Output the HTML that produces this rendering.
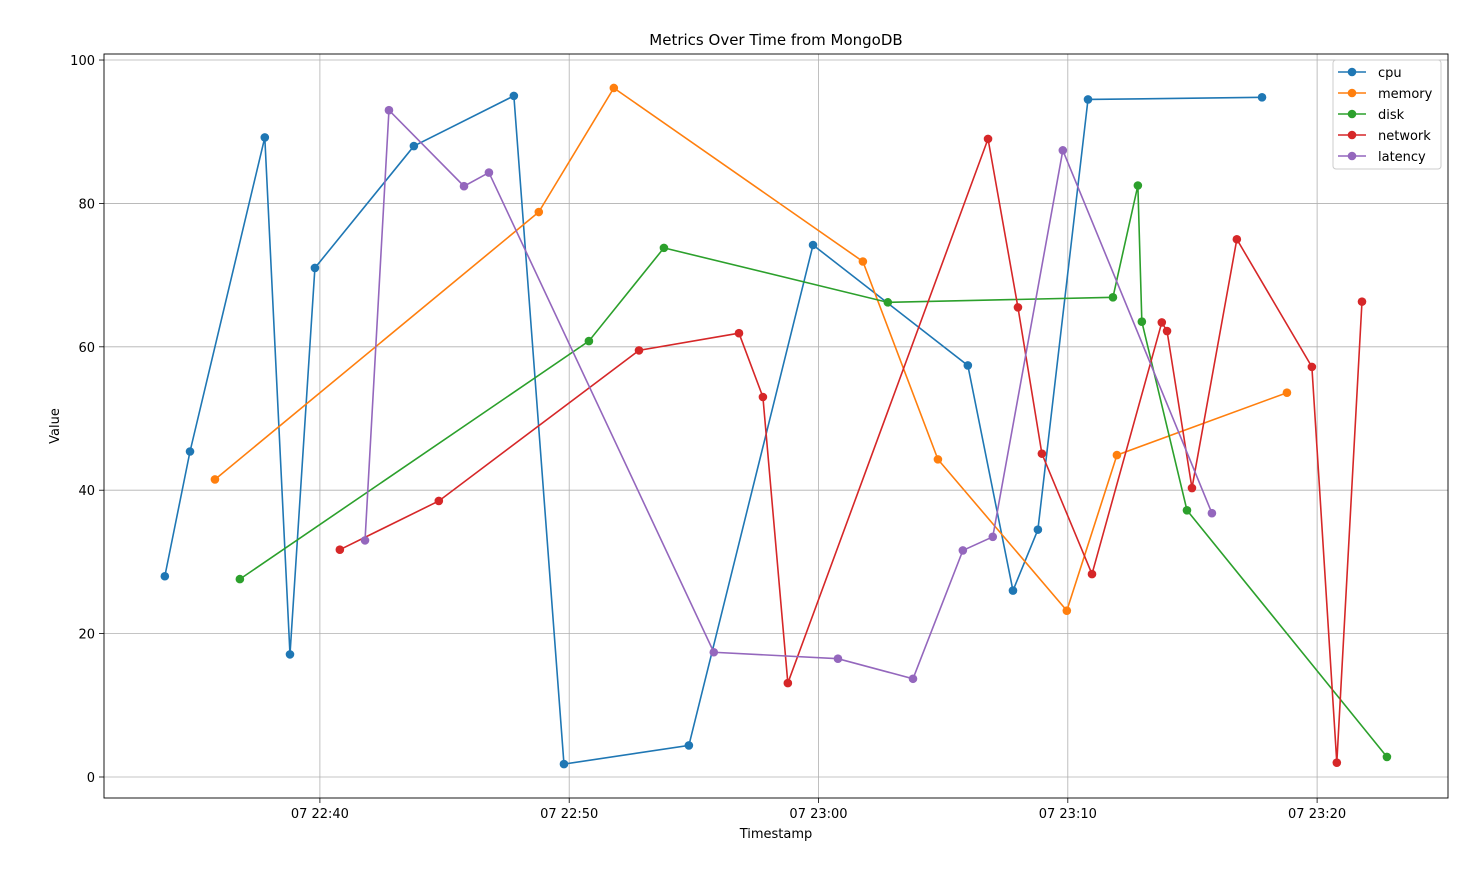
<!DOCTYPE html>
<html><head><meta charset="utf-8"><style>
body{margin:0;background:#fff;}
svg text{font-family:"DejaVu Sans","Liberation Sans",sans-serif;}
</style></head><body>
<svg id="chart" width="1470" height="884" xmlns="http://www.w3.org/2000/svg"></svg>
<script>
// minutes after 22:30
const cpuT=[3.78,4.79,7.79,8.80,9.80,13.77,17.78,19.79,24.80,29.78,35.99,37.80,38.80,40.81,47.79];
const cpuV=[28,45.4,89.2,17.1,71,88,95,1.8,4.4,74.2,57.4,26,34.5,94.5,94.8];
const memT=[5.79,18.78,21.79,31.78,34.79,39.96,41.97,48.79];
const memV=[41.5,78.8,96.1,71.9,44.3,23.2,44.9,53.6];
const diskT=[6.79,20.79,23.80,32.78,41.81,42.81,42.97,44.78,52.80];
const diskV=[27.6,60.8,73.8,66.2,66.9,82.5,63.5,37.2,2.8];
const netT=[10.80,14.77,22.80,26.81,27.77,28.77,36.80,38.00,38.96,40.97,43.77,43.98,44.98,46.78,49.79,50.79,51.80];
const netV=[31.7,38.5,59.5,61.9,53,13.1,89,65.5,45.1,28.3,63.4,62.2,40.3,75,57.2,2,66.3];
const latT=[11.81,12.77,15.78,16.78,25.80,30.78,33.79,35.79,36.99,39.80,45.78];
const latV=[33,93,82.4,84.3,17.4,16.5,13.7,31.6,33.5,87.4,36.8];
const xTicks=[10,20,30,40,50];
const xTickLabels=["07 22:40","07 22:50","07 23:00","07 23:10","07 23:20"];
const yTicks=[0,20,40,60,80,100];

const L=104,R=1448,T=54,B=798;
const xMin=1.34,xMax=55.25,yMin=-2.93,yMax=100.84;
const X=m=>L+(m-xMin)/(xMax-xMin)*(R-L);
const Y=v=>B-(v-yMin)/(yMax-yMin)*(B-T);
const svg=document.getElementById('chart');
const NS='http://www.w3.org/2000/svg';
function mk(tag,attrs,parent){const e=document.createElementNS(NS,tag);for(const k in attrs)e.setAttribute(k,attrs[k]);(parent||svg).appendChild(e);return e;}

// grid
xTicks.forEach((t,i)=>{
  const g=mk('line',{x1:X(t),x2:X(t),y1:T,y2:B,stroke:'#b0b0b0','stroke-width':0.8});
  
  
  const tk=mk('line',{x1:X(t),x2:X(t),y1:B,y2:B+5,stroke:'#000','stroke-width':0.8});
  
  
  const tx=mk('text',{x:X(t),y:B+20,'text-anchor':'middle','font-size':13});
  tx.textContent=xTickLabels[i];
  
  
});
yTicks.forEach(t=>{
  const g=mk('line',{x1:L,x2:R,y1:Y(t),y2:Y(t),stroke:'#b0b0b0','stroke-width':0.8});
  
  
  const tk=mk('line',{x1:L-5,x2:L,y1:Y(t),y2:Y(t),stroke:'#000','stroke-width':0.8});
  
  
  const tx=mk('text',{x:L-9,y:Y(t)+5,'text-anchor':'end','font-size':13});
  tx.textContent=t;
  
  
});

const series=[
  ['cpu','#1f77b4',cpuT,cpuV],
  ['memory','#ff7f0e',memT,memV],
  ['disk','#2ca02c',diskT,diskV],
  ['network','#d62728',netT,netV],
  ['latency','#9467bd',latT,latV]];
series.forEach(([name,col,ts,vs])=>{
  const g=mk('g',{});
  
  
  const p=mk('polyline',{points:ts.map((t,i)=>X(t)+','+Y(vs[i])).join(' '),fill:'none',stroke:col,'stroke-width':1.6},g);
  
  
  ts.forEach((t,i)=>{
    const c=mk('circle',{cx:X(t),cy:Y(vs[i]),r:4.3,fill:col},g);
    
    
  });
});

const frame=mk('rect',{x:L,y:T,width:R-L,height:B-T,fill:'none',stroke:'#000','stroke-width':0.9});



const title=mk('text',{x:(L+R)/2,y:45,'text-anchor':'middle','font-size':15});
title.textContent='Metrics Over Time from MongoDB';


const xt=mk('text',{x:(L+R)/2,y:838,'text-anchor':'middle','font-size':13});
xt.textContent='Timestamp';


const yt=mk('text',{x:59,y:426,'text-anchor':'middle','font-size':13,transform:'rotate(-90 59 426)'});
yt.textContent='Value';



// legend
const lg=mk('g',{});


mk('rect',{x:1333,y:60,width:108,height:109,rx:3,fill:'#fff','fill-opacity':0.8,stroke:'#ccc','stroke-width':1},lg);
series.forEach(([name,col],i)=>{
  const y=72+i*21;
  const e=mk('g',{},lg);
  
  
  mk('line',{x1:1338,x2:1366,y1:y,y2:y,stroke:col,'stroke-width':1.6},e);
  mk('circle',{cx:1352,cy:y,r:4.3,fill:col},e);
  const t=mk('text',{x:1378,y:y+5,'font-size':13},e);
  t.textContent=name;
});
</script>
</body></html>
